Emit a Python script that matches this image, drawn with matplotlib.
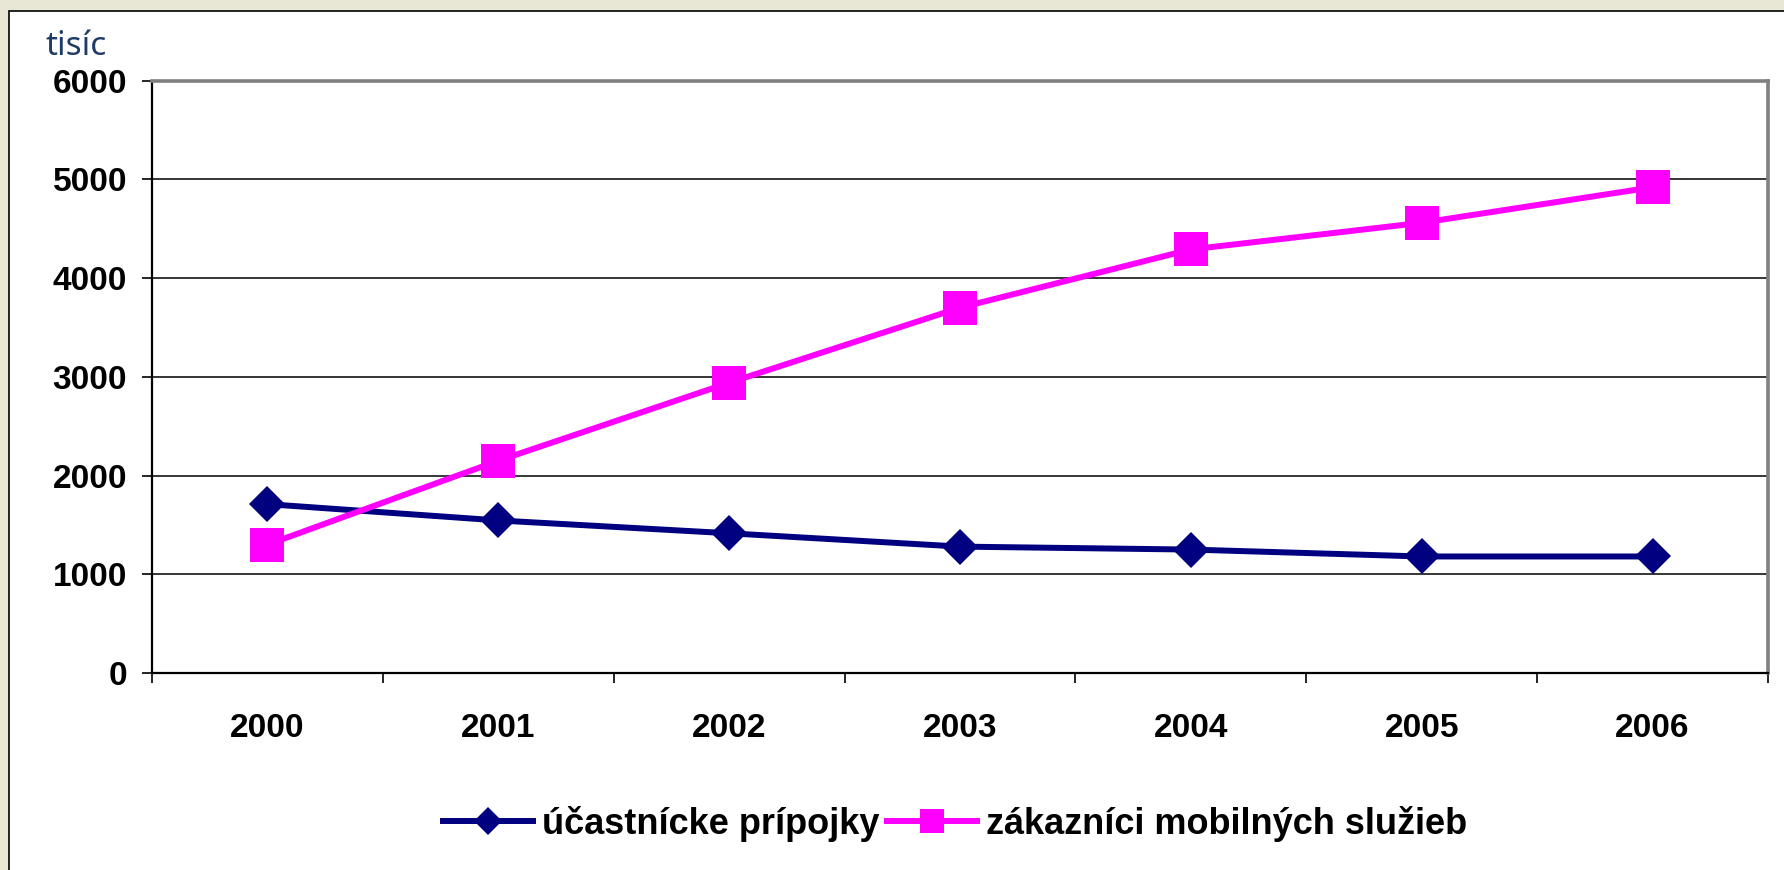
import matplotlib.pyplot as plt
from matplotlib.patches import Rectangle
from matplotlib.lines import Line2D
from matplotlib.ticker import FixedLocator

# data (thousands)
years = ['2000', '2001', '2002', '2003', '2004', '2005', '2006']
pripojky = [1710, 1545, 1415, 1280, 1250, 1180, 1180]
mobilne = [1300, 2150, 2940, 3700, 4290, 4560, 4920]
labels = ['účastnícke prípojky', 'zákazníci mobilných služieb']
y_ticks = [0, 1000, 2000, 3000, 4000, 5000, 6000]

plt.rcParams['font.family'] = ['Liberation Sans', 'DejaVu Sans']

W, H = 1784, 870
fig = plt.figure(figsize=(W / 100, H / 100 + 0.001), dpi=100)
fig.patch.set_facecolor('#e8e6d4')

# white chart area with thin black border
fig.patches.append(Rectangle((9 / W, -0.05), 1.05, (H - 11) / H + 0.05,
                             transform=fig.transFigure, facecolor='white',
                             edgecolor='black', linewidth=1.2, zorder=-5))

ax = fig.add_axes([152 / W, 1 - 673 / H, (1768 - 152) / W, (673 - 80.7) / H])
ax.set_facecolor('white')

x = list(range(len(years)))
ax.plot(x, pripojky, color='#000080', linewidth=4.3, marker='D', markersize=18.5,
        markeredgewidth=0, zorder=3)
ax.plot(x, mobilne, color='#ff00ff', linewidth=4.3, marker='s', markersize=24,
        markeredgewidth=0, zorder=4)

ax.set_xlim(-0.5, len(years) - 0.5)
ax.set_ylim(0, 6000)

ax.set_yticks(y_ticks)
ax.set_yticklabels([str(v) for v in y_ticks], fontsize=24, fontweight='bold')
ax.tick_params(axis='y', length=7, width=1.2, pad=11, color='black')

ax.set_xticks(x)
ax.set_xticklabels(years, fontsize=24, fontweight='bold')
ax.tick_params(axis='x', which='major', length=0, pad=29)
ax.xaxis.set_minor_locator(FixedLocator([i - 0.5 for i in range(len(years) + 1)]))
ax.tick_params(axis='x', which='minor', length=7, width=1.2, color='black')

for v in y_ticks[1:-1]:
    ax.axhline(v, color='black', linewidth=1.1, zorder=1)

ax.spines['left'].set_color('black')
ax.spines['left'].set_linewidth(1.6)
ax.spines['bottom'].set_color('black')
ax.spines['bottom'].set_linewidth(1.6)
ax.spines['top'].set_color('#808080')
ax.spines['top'].set_linewidth(2.6)
ax.spines['right'].set_color('#808080')
ax.spines['right'].set_linewidth(2.6)

fig.text(45 / W, 1 - 55 / H, 'tisíc', fontsize=24, color='#1f3c66',
         family=['Noto Sans', 'DejaVu Sans'], ha='left', va='baseline')

handles = [
    Line2D([], [], color='#000080', linewidth=4.3, marker='D', markersize=14,
           markeredgewidth=0),
    Line2D([], [], color='#ff00ff', linewidth=4.3, marker='s', markersize=17,
           markeredgewidth=0),
]
fig.legend(handles, labels, loc='center', bbox_to_anchor=(955 / W, 1 - 824 / H),
           ncol=2, frameon=False, prop={'size': 26, 'weight': 'bold'},
           handlelength=2.5, handletextpad=0.25, columnspacing=0.2)

fig.savefig('out.png', dpi=100, facecolor=fig.get_facecolor())
